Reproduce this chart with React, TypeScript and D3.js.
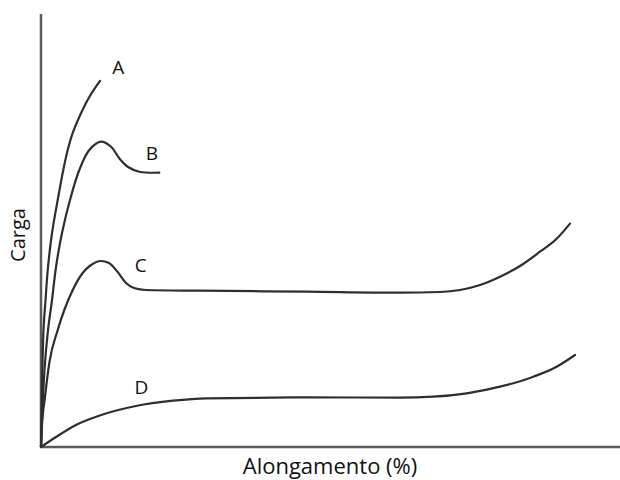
import React from "react";
import * as d3 from "d3";

// Load–elongation curves (arbitrary units: elongation 0–100, load 0–100)
const curveA: [number, number][] = [
  [0, 0], [0.14, 10.85], [0.43, 27.0], [0.78, 33.95], [1.21, 41.57], [1.9, 49.42], [2.88, 57.04],
  [3.84, 63.97], [4.6, 68.59], [5.47, 72.52], [6.6, 76.21], [8.33, 80.83], [10.17, 84.53],
];
const curveB: [number, number][] = [
  [0, 0], [0.6, 17.78], [1.21, 27.02], [1.9, 33.95], [2.59, 41.57], [3.62, 49.42], [5.0, 57.04],
  [6.6, 63.97], [8.33, 68.59], [10.34, 70.51], [12.07, 69.35], [13.5, 66.67], [14.95, 64.73],
  [16.95, 63.58], [20.4, 63.35],
];
const curveC: [number, number][] = [
  [0, 0], [0.12, 3.93], [0.69, 11.55], [1.43, 19.4], [2.88, 27.02], [4.02, 31.64], [5.47, 36.26],
  [7.19, 40.18], [8.62, 42.03], [10.34, 42.96], [11.72, 42.49], [13.22, 40.42], [14.66, 37.88],
  [16.03, 36.72], [18.1, 36.26], [27.41, 36.1], [45.86, 35.87], [61.9, 35.64], [68.79, 35.8],
  [72.24, 36.26], [75.69, 37.41], [79.14, 39.33], [82.59, 41.8], [86.03, 45.1], [88.91, 48.1],
  [91.21, 51.6],
];
const curveD: [number, number][] = [
  [0, 0], [2.59, 2.31], [6.03, 5.08], [10.64, 7.51], [16.38, 9.47], [22.76, 10.69], [28.57, 11.25],
  [45.81, 11.45], [61.9, 11.42], [67.64, 11.62], [73.4, 12.4], [79.14, 13.93], [84.88, 16.24],
  [88.91, 18.55], [92.07, 21.25],
];

const curveNames = ["A", "B", "C", "D"];
const curveSeries = [curveA, curveB, curveC, curveD];
// label anchor for each curve (same units as the data)
const labelAt: [number, number][] = [
  [13.3, 86.1], [19.1, 66.3], [17.2, 40.4], [17.3, 12.2],
];

const xTitle = "Alongamento (%)";
const yTitle = "Carga";

const W = 620;
const H = 480;

export default function App() {
  const x = d3.scaleLinear().domain([0, 100]).range([41, 621]);
  const y = d3.scaleLinear().domain([0, 100]).range([447, 14]);

  // steep initial rises read best with Catmull–Rom; long plateaus with monotone splines
  const steepLine = d3
    .line<[number, number]>()
    .x((d) => x(d[0]))
    .y((d) => y(d[1]))
    .curve(d3.curveCatmullRom.alpha(0.5));
  const plateauLine = d3
    .line<[number, number]>()
    .x((d) => x(d[0]))
    .y((d) => y(d[1]))
    .curve(d3.curveMonotoneX);
  const generators = [steepLine, steepLine, plateauLine, plateauLine];

  const font = "'Open Sans', 'Noto Sans', sans-serif";

  return (
    <svg
      width={W}
      height={H}
      style={{ position: "absolute", left: 0, top: 0, background: "#fff" }}
      fontFamily={font}
    >
      {/* axes */}
      <line x1={x(0)} y1={y(0)} x2={x(0)} y2={y(100)} stroke="#5c5c5c" strokeWidth={2.5} />
      <line x1={x(0)} y1={y(0)} x2={x(100)} y2={y(0)} stroke="#5c5c5c" strokeWidth={2.5} />

      {/* curves */}
      {curveSeries.map((s, i) => (
        <path
          key={curveNames[i]}
          d={generators[i](s) || ""}
          fill="none"
          stroke="#2e2e2e"
          strokeWidth={2.2}
          strokeLinecap="round"
          strokeLinejoin="round"
        />
      ))}

      {/* curve labels */}
      {curveNames.map((n, i) => (
        <text
          key={n}
          x={x(labelAt[i][0])}
          y={y(labelAt[i][1])}
          textAnchor="middle"
          fontSize={19}
          fill="#111"
        >
          {n}
        </text>
      ))}

      {/* axis titles */}
      <text x={330} y={474} textAnchor="middle" fontSize={22} fill="#111">
        {xTitle}
      </text>
      <text
        transform={`translate(25, 235) rotate(-90)`}
        textAnchor="middle"
        fontSize={20}
        fill="#111"
      >
        {yTitle}
      </text>
    </svg>
  );
}
